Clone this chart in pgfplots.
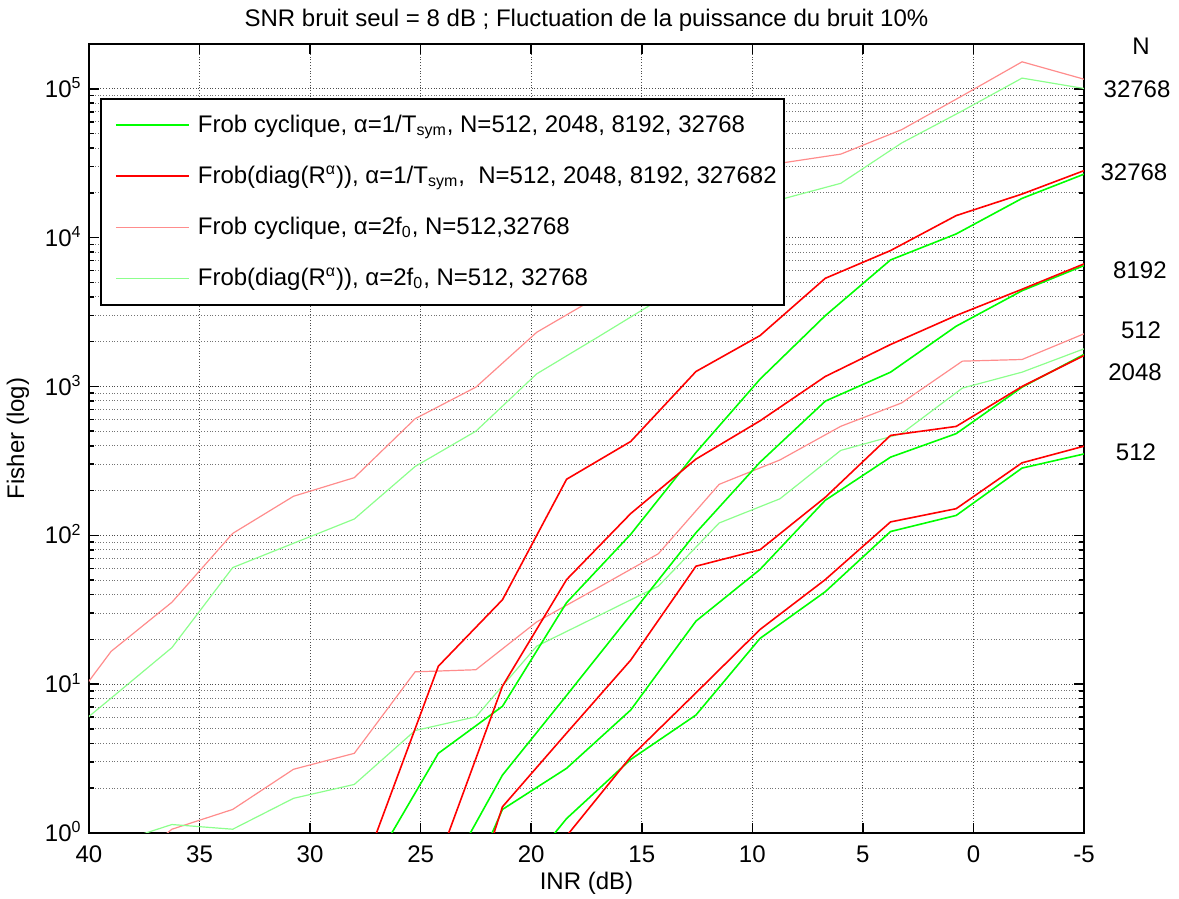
\documentclass[border=0pt]{standalone}
\usepackage{fontspec}
\setmainfont{Liberation Sans}
\usepackage{pgfplots}
\pgfplotsset{compat=1.18}
\definecolor{cgreen}{RGB}{0,255,0}
\definecolor{cred}{RGB}{255,0,0}
\definecolor{cpink}{RGB}{255,140,140}
\definecolor{clgreen}{RGB}{140,255,140}
\begin{document}
\fontsize{12}{14}\selectfont
\begin{tikzpicture}[font=\fontsize{12}{14}\selectfont]
\useasboundingbox (-44.5pt,-33pt) rectangle (545pt,416.5pt);
\begin{axis}[
  at={(0pt,0pt)}, anchor=south west,
  scale only axis, width=497.5pt, height=394.5pt,
  clip mode=individual,
  x dir=reverse, xmin=-5, xmax=40,
  ymode=log, ymin=1, ymax=2e5,
  xtick={-5,0,5,10,15,20,25,30,35,40},
  ytick={1,10,100,1000,10000,100000},
  yticklabels={10\textsuperscript{0},10\textsuperscript{1},10\textsuperscript{2},10\textsuperscript{3},10\textsuperscript{4},10\textsuperscript{5}},
  minor ytick={2,3,4,5,6,7,8,9,20,30,40,50,60,70,80,90,200,300,400,500,600,700,800,900,2000,3000,4000,5000,6000,7000,8000,9000,20000,30000,40000,50000,60000,70000,80000,90000},
  /pgf/number format/assume math mode=true,
  tick align=inside, xtick pos=both, ytick pos=both,
  major tick length=5pt, minor tick length=2.5pt,
  every tick/.append style={black, line width=0.8pt},
  xmajorgrids, ymajorgrids, yminorgrids,
  major grid style={densely dotted, black!70, line width=0.5pt},
  minor grid style={densely dotted, black!55, line width=0.5pt},
  axis line style={black, line width=0.9pt},
  xticklabel style={anchor=base, inner sep=0pt, yshift=-15pt},
  yticklabel style={anchor=base east, inner sep=0pt, xshift=-3.5pt, yshift=-4.3pt},
  title={SNR bruit seul = 8 dB ; Fluctuation de la puissance du bruit 10\%},
  title style={at={(axis description cs:0.5,1)}, anchor=base, yshift=2.65pt, inner sep=0pt},
  xlabel={INR (dB)},
  xlabel style={at={(axis description cs:0.5,0)}, anchor=base, yshift=-28.5pt, inner sep=0pt},
  ylabel={Fisher (log)},
  ylabel style={at={(axis description cs:-0.0714,0.5)}, anchor=center, inner sep=0pt},
  legend style={at={(axis description cs:0.01106,0.9316)}, anchor=north west, draw=black, line width=0.9pt, fill=white, inner xsep=3.5pt, inner ysep=8pt, row sep=15pt, column sep=4pt, nodes={inner sep=0pt}},
  legend cell align=left,
  legend image code/.code={\path (0pt,0pt); \draw[line cap=butt,#1] (3.5pt,0pt) -- (40pt,0pt);},
]
\addlegendimage{draw=cgreen, line width=1pt}
\addlegendentry{Frob cyclique, α=1/T\textsubscript{sym}, N=512, 2048, 8192, 32768}
\addlegendimage{draw=cred, line width=1pt}
\addlegendentry{Frob(diag(R\textsuperscript{α})), α=1/T\textsubscript{sym},\ \ N=512, 2048, 8192, 327682}
\addlegendimage{draw=cpink, line width=0.7pt}
\addlegendentry{Frob cyclique, α=2f\textsubscript{0}, N=512,32768}
\addlegendimage{draw=clgreen, line width=0.7pt}
\addlegendentry{Frob(diag(R\textsuperscript{α})), α=2f\textsubscript{0}, N=512, 32768}
\addplot[cpink, line width=0.6pt, forget plot] coordinates {(39,0.49) (36.25,1.06) (33.5,1.44) (30.75,2.68) (28,3.43) (25.25,12.1) (22.5,12.5) (19.75,26.2) (17,44.3) (14.25,75.2) (11.5,220) (8.75,321) (6,540) (3.25,775) (0.5,1480) (-2.2,1518) (-5,2258)};
\addplot[clgreen, line width=0.6pt, forget plot] coordinates {(39,0.84) (36.25,1.14) (33.5,1.06) (30.75,1.71) (28,2.12) (25.25,4.88) (22.5,6.04) (19.75,18.0) (17,28.6) (14.25,45.5) (11.5,121) (8.75,176) (6,372) (3.25,482) (0.5,975) (-2.2,1248) (-5,1790)};
\addplot[cpink, line width=0.6pt, forget plot] coordinates {(41.75,4.7) (39,16.6) (36.25,35.5) (33.5,103) (30.75,183) (28,244) (25.25,607) (22.5,990) (19.75,2313) (17,4000) (14.25,10000) (11.5,24000) (8.75,31600) (6,36400) (3.25,53100) (0.5,89800) (-2.2,151800) (-5,116000)};
\addplot[clgreen, line width=0.6pt, forget plot] coordinates {(41.75,3.7) (39,8.05) (36.25,17.6) (33.5,60.7) (30.75,88.4) (28,128.7) (25.25,290) (22.5,501) (19.75,1216) (17,2140) (14.25,3800) (11.5,9800) (8.75,18000) (6,23170) (3.25,43200) (0.5,71100) (-2.2,118000) (-5,100500)};
\addplot[cgreen, line width=0.8pt, forget plot] coordinates {(27.15,0.61) (24.2,3.43) (21.3,7.1) (18.4,35.3) (15.5,101.6) (12.55,360) (9.65,1120) (6.7,2990) (3.75,7080) (0.78,10590) (-2.2,18350) (-5,26690)};
\addplot[cgreen, line width=0.8pt, forget plot] coordinates {(24.2,0.41) (21.3,2.45) (18.4,8.4) (15.5,29.2) (12.55,104) (9.65,310) (6.7,797) (3.75,1247) (0.78,2540) (-2.2,4400) (-5,6490)};
\addplot[cgreen, line width=0.8pt, forget plot] coordinates {(24.2,0.15) (21.3,1.44) (18.4,2.72) (15.5,6.7) (12.55,26.5) (9.65,59) (6.7,172) (3.75,335) (0.78,482) (-2.2,989) (-5,1641)};
\addplot[cgreen, line width=0.8pt, forget plot] coordinates {(21.3,0.37) (18.4,1.25) (15.5,3.12) (12.55,6.2) (9.65,20.3) (6.7,41.8) (3.75,106) (0.78,136) (-2.2,283) (-5,352)};
\addplot[cred, line width=0.8pt, forget plot] coordinates {(27.15,0.87) (24.2,13.2) (21.3,36.9) (18.4,238) (15.5,427) (12.55,1260) (9.65,2198) (6.7,5330) (3.75,8185) (0.78,14060) (-2.2,19630) (-5,28180)};
\addplot[cred, line width=0.8pt, forget plot] coordinates {(24.2,0.65) (21.3,9.7) (18.4,50.4) (15.5,140) (12.55,325) (9.65,588) (6.7,1167) (3.75,1914) (0.78,2998) (-2.2,4500) (-5,6660)};
\addplot[cred, line width=0.8pt, forget plot] coordinates {(24.2,0.069) (21.3,1.5) (18.4,4.69) (15.5,14.5) (12.55,62) (9.65,80) (6.7,180) (3.75,469) (0.78,539) (-2.2,1000) (-5,1614)};
\addplot[cred, line width=0.8pt, forget plot] coordinates {(21.3,0.26) (18.4,0.955) (15.5,3.25) (12.55,8.74) (9.65,23.3) (6.7,50.4) (3.75,123) (0.78,151) (-2.2,307) (-5,397)};
\node at (axis cs:-7.58,194000) {N};
\node at (axis cs:-7.40,100000) {32768};
\node at (axis cs:-7.26,27700) {32768};
\node at (axis cs:-7.53,6010) {8192};
\node at (axis cs:-7.58,2377) {512};
\node at (axis cs:-7.31,1242) {2048};
\node at (axis cs:-7.35,361) {512};
\end{axis}
\end{tikzpicture}
\end{document}
